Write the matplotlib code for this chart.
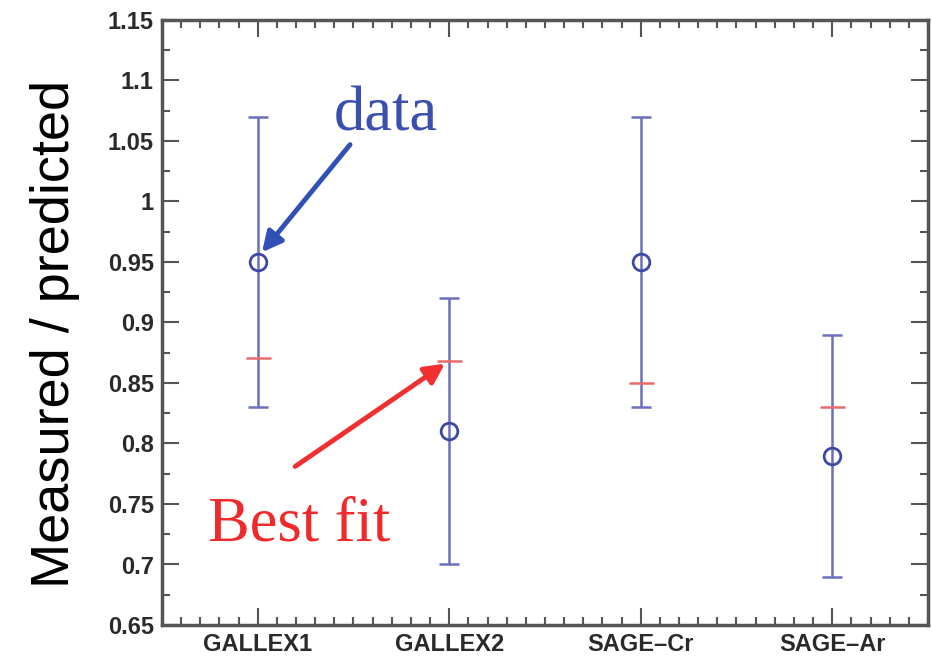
import matplotlib.pyplot as plt
from matplotlib.ticker import MultipleLocator

experiments = ["GALLEX1", "GALLEX2", "SAGE\u2013Cr", "SAGE\u2013Ar"]
measured = [0.95, 0.81, 0.95, 0.79]
err_low = [0.83, 0.70, 0.83, 0.69]
err_high = [1.07, 0.92, 1.07, 0.89]
best_fit = [0.871, 0.868, 0.850, 0.830]

xpos = list(range(1, len(experiments) + 1))
yerr = [[m - lo for m, lo in zip(measured, err_low)],
        [hi - m for m, hi in zip(measured, err_high)]]

fig = plt.figure(figsize=(9.32, 6.57), dpi=100)
ax = fig.add_axes([162 / 932, 1 - 625 / 657, (928 - 162) / 932, (625 - 20) / 657])

ax.errorbar(xpos, measured, yerr=yerr, fmt="none", ecolor="#6a70bd",
            elinewidth=1.8, capsize=7, capthick=1.8, zorder=2)
ax.plot(xpos, best_fit, ls="none", marker="_", color="#ec6a6a",
        markersize=18, markeredgewidth=1.8, zorder=3)
ax.plot(xpos, measured, ls="none", marker="o", markersize=12,
        markerfacecolor="none", markeredgecolor="#3d4aa3",
        markeredgewidth=2, zorder=4)

ax.set_xlim(0.5, 4.5)
ax.set_ylim(0.65, 1.15)
ax.set_xticks(xpos)
ax.set_xticklabels(experiments, fontfamily="Liberation Sans",
                   fontweight="bold", fontsize=17, color="#2a2a2a")
ax.xaxis.set_minor_locator(MultipleLocator(0.1))
ax.yaxis.set_minor_locator(MultipleLocator(0.025))
ax.set_yticks([0.65, 0.7, 0.75, 0.8, 0.85, 0.9, 0.95, 1.0, 1.05, 1.1, 1.15])
ax.set_yticklabels(["0.65", "0.7", "0.75", "0.8", "0.85", "0.9", "0.95",
                    "1", "1.05", "1.1", "1.15"],
                   fontfamily="Liberation Sans", fontweight="bold",
                   fontsize=17, color="#2a2a2a")

ax.tick_params(which="both", direction="in", top=True, right=True,
               color="#555555", width=1.5)
ax.tick_params(which="major", length=12, pad=6)
ax.tick_params(which="minor", length=6)
for s in ax.spines.values():
    s.set_color("#555555")
    s.set_linewidth(2.5)

# y label placed by hand (slightly below axis centre, as in the original)
fig.text(55 / 932, 1 - 334 / 657, "Measured / predicted",
         fontfamily="Liberation Sans", fontsize=39, rotation=90,
         ha="center", va="center")

# labels and arrows
ax.text(1.67, 1.059, "data", fontfamily="Liberation Serif", fontsize=45,
        color="#3a4fae", ha="center", va="baseline")
ax.annotate("", xy=(1.022, 0.958), xytext=(1.482, 1.047),
            arrowprops=dict(arrowstyle="-|>", color="#3150b5", lw=3.5,
                            mutation_scale=30, shrinkA=0, shrinkB=0))
ax.text(0.74, 0.720, "Best fit", fontfamily="Liberation Serif", fontsize=45,
        color="#f02a2a", ha="left", va="baseline")
ax.annotate("", xy=(1.978, 0.866), xytext=(1.195, 0.781),
            arrowprops=dict(arrowstyle="-|>", color="#f03030", lw=3.5,
                            mutation_scale=30, shrinkA=0, shrinkB=0))

fig.savefig("out.png", dpi=100)
